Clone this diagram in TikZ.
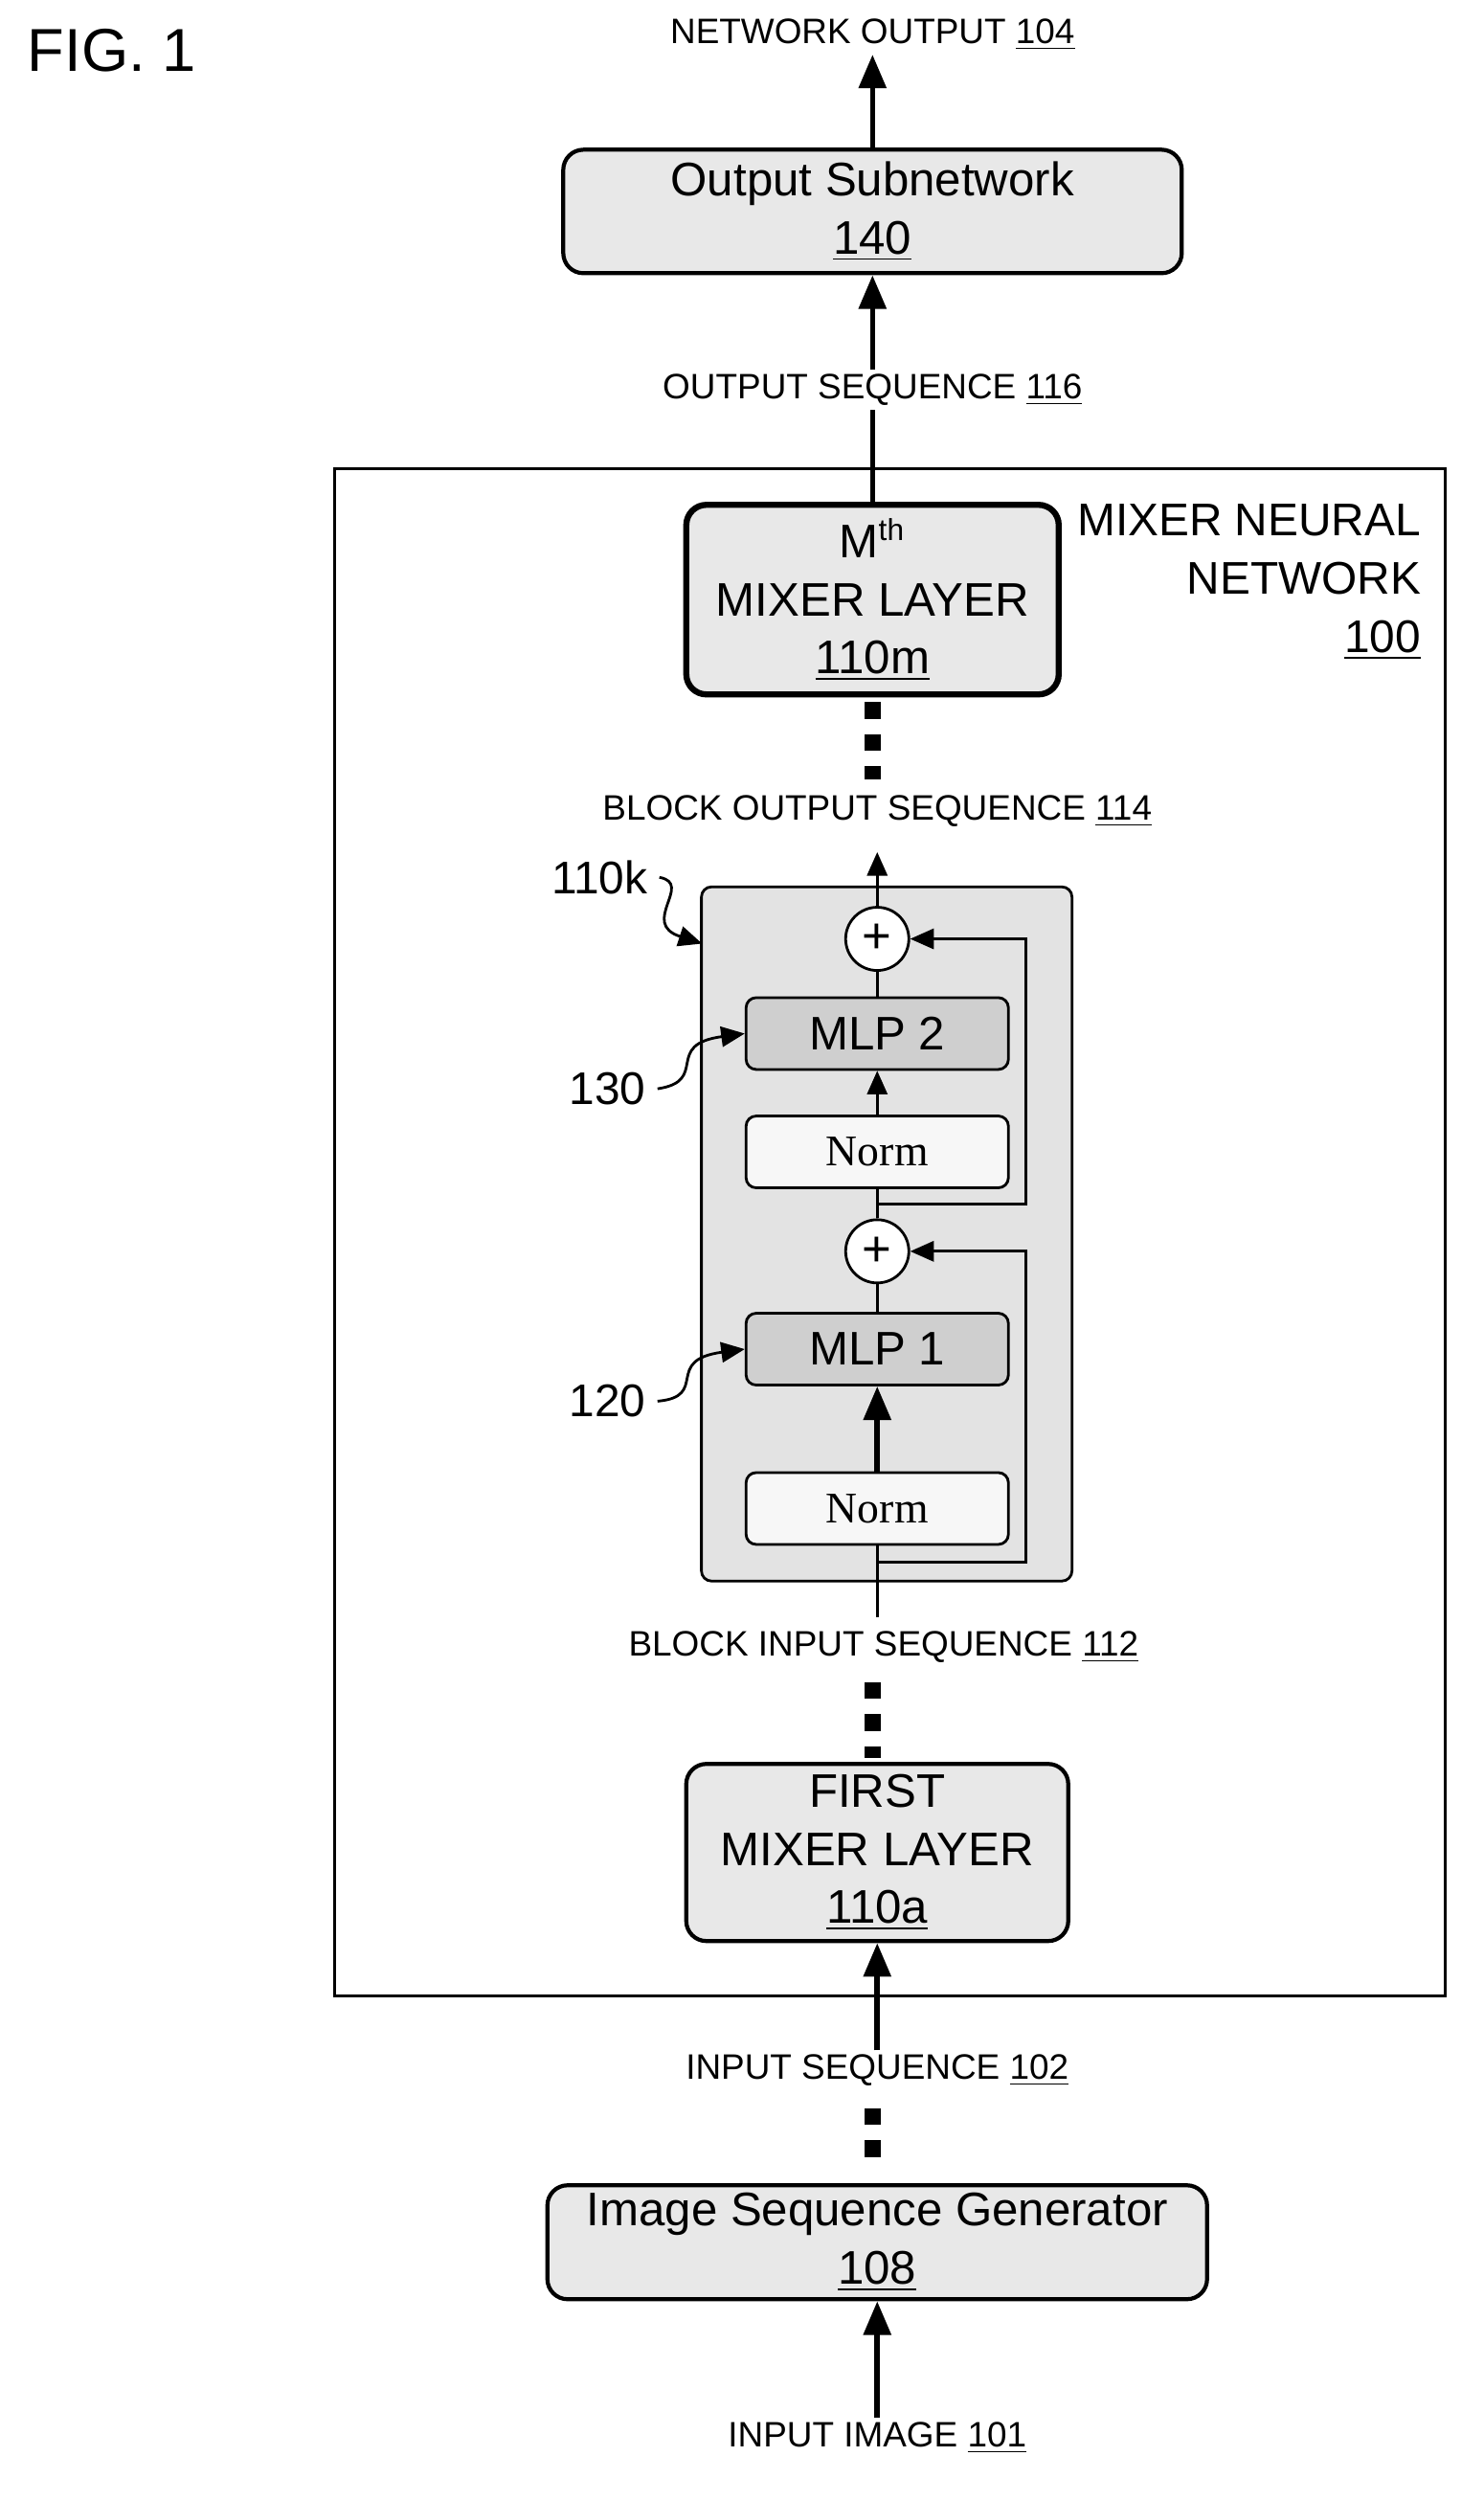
\documentclass[tikz,border=0pt]{standalone}
\usepackage{fontspec}
\setmainfont{Liberation Sans}
\newfontfamily\serif{Liberation Serif}
\usetikzlibrary{positioning,arrows.meta}
\tikzset{
box/.style={draw, very thick, rounded corners=6pt, fill=gray!18, align=center, inner sep=0pt, font=\fontsize{14}{17.2}\selectfont},
inner/.style={draw, thick, rounded corners=3pt, inner sep=0pt, minimum width=2.74cm, minimum height=0.75cm},
mlp/.style={inner, fill=gray!38, font=\fontsize{14}{16}\selectfont},
norm/.style={inner, fill=gray!6, font=\serif\fontsize{13}{15}\selectfont},
plus/.style={draw, thick, circle, fill=white, minimum size=0.66cm, inner sep=0pt, font=\fontsize{15}{15}\selectfont},
lbl/.style={font=\fontsize{10.5}{12}\selectfont, inner sep=1pt},
big/.style={font=\fontsize{13.6}{17.4}\selectfont},
arr/.style={line width=1.6pt, -{Triangle[length=10pt,width=8pt]}},
sarr/.style={thick, -{Triangle[length=7pt,width=6pt]}},
dots/.style={line width=5pt, dash pattern=on 5pt off 4.5pt},
}
\begin{document}
\begin{tikzpicture}[x=0.01648cm, y=-0.01648cm]
\useasboundingbox (0,0) rectangle (940,1585);
\node[font=\fontsize{18}{18}\selectfont, anchor=west] (fig) at (10,32) {FIG. 1};
% outer network
\draw[thick] (212,297) rectangle (916,1265);
\node[big, align=right, anchor=north east] (mnn) at (908,312) {MIXER NEURAL\\NETWORK\\\underline{100}};
% top part
\node[lbl] (out) at (553,22) {NETWORK OUTPUT \underline{104}};
\node[box, minimum width=6.46cm, minimum height=1.29cm] (osn) at (553,134)
 {Output Subnetwork\\\underline{140}};
\node[lbl] (oseq) at (553,247) {OUTPUT SEQUENCE \underline{116}};
\node[box, minimum width=3.89cm, minimum height=1.98cm, line width=1.8pt] (mm) at (553,380)
 {M\textsuperscript{\fontsize{9}{9}\selectfont th}\\MIXER LAYER\\\underline{110m}};
\draw[arr] (osn.north) -- (out.south);
\draw[arr] (oseq.north) -- (osn.south);
\draw[line width=1.6pt] (mm.north) -- (oseq.south);
\draw[dots] (553,445) -- (553,494);
\node[lbl] (bos) at (556,514) {BLOCK OUTPUT SEQUENCE \underline{114}};
% mixer block
\node[draw, thick, rounded corners=3pt, fill=gray!22, minimum width=3.87cm, minimum height=7.25cm] (blk) at (562,782) {};
\node[plus] (p2) at (556,595) {+};
\node[mlp] (mlp2) at (556,655) {MLP 2};
\node[norm] (n2) at (556,730) {Norm};
\node[plus] (p1) at (556,793) {+};
\node[mlp] (mlp1) at (556,855) {MLP 1};
\node[norm] (n1) at (556,956) {Norm};
\node[lbl] (bis) at (560,1044) {BLOCK INPUT SEQUENCE \underline{112}};
\coordinate (bin) at (556,1025);
\coordinate (r1) at (556,990);
\coordinate (r2) at (556,763);
\draw[thick] (bin) -- (n1.south);
\draw[arr] (n1.north) -- (mlp1.south);
\draw[thick] (mlp1.north) -- (p1.south);
\draw[thick] (p1.north) -- (n2.south);
\draw[sarr] (n2.north) -- (mlp2.south);
\draw[thick] (mlp2.north) -- (p2.south);
\draw[sarr] (p2.north) -- (556,540);
\draw[sarr] (r1) -| (650,793) -- (p1.east);
\draw[sarr] (r2) -| (650,595) -- (p2.east);
% callouts
\node[big] (l110k) at (380,556) {110k};
\node[big] (l130) at (385,690) {130};
\node[big] (l120) at (385,888) {120};
\draw[sarr] (l110k.east) .. controls (440,560) and (405,585) .. (445,598);
\draw[sarr] (l130.east) .. controls (450,685) and (420,662) .. (mlp2.west);
\draw[sarr] (l120.east) .. controls (450,885) and (420,862) .. (mlp1.west);
% bottom part
\draw[dots] (553,1066) -- (553,1114);
\node[box, minimum width=3.99cm, minimum height=1.85cm] (fm) at (556,1174)
 {FIRST\\MIXER LAYER\\\underline{110a}};
\node[lbl] (iseq) at (556,1312) {INPUT SEQUENCE \underline{102}};
\draw[arr] (iseq.north) -- (fm.south);
\draw[dots] (553,1336) -- (553,1373);
\node[box, minimum width=6.89cm, minimum height=1.19cm] (isg) at (556,1421)
 {Image Sequence Generator\\\underline{108}};
\node[lbl] (img) at (556,1545) {INPUT IMAGE \underline{101}};
\draw[arr] (img.north) -- (isg.south);
\end{tikzpicture}
\end{document}
